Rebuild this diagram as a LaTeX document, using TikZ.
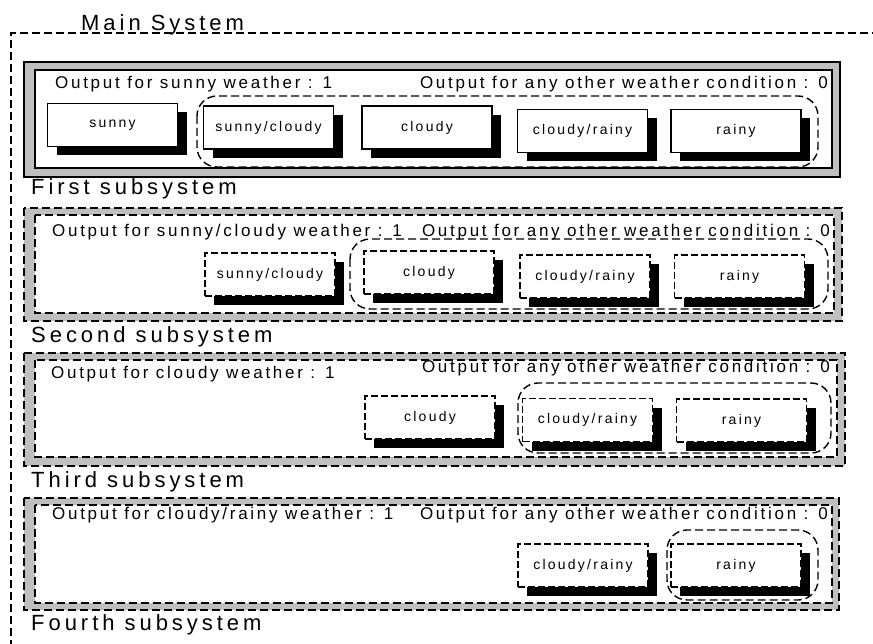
\documentclass[tikz,border=0pt]{standalone}
\usepackage{fontspec}
\setmainfont{Liberation Sans}[LetterSpace=16]
\usetikzlibrary{shadows}

\tikzset{
    dashes/.style = {dash pattern=on 8pt off 4pt},
    band/.style = {fill=black!25, draw=black, line width=1.2pt},
    pane/.style = {fill=white, draw=black, line width=1.2pt},
    wbox/.style = {draw, fill=white, line width=1.1pt, minimum width=130pt, minimum height=43pt,
        inner sep=0pt, font=\fontsize{14}{16}\selectfont,
        drop shadow={shadow xshift=9pt, shadow yshift=-9pt, fill=black, opacity=1}},
    dbox/.style = {wbox, dash pattern=on 7pt off 3pt},
    grp/.style = {draw, line width=1.4pt, dash pattern=on 8pt off 4pt, rounded corners=20pt},
    outtxt/.style = {inner sep=0pt, font=\fontsize{17}{19}\selectfont},
    subtxt/.style = {inner sep=0pt, font=\fontsize{22}{25}\selectfont\addfontfeatures{LetterSpace=18}}
}

\begin{document}
\begin{tikzpicture}[x=1pt, y=-1pt]
        \useasboundingbox (0,0) rectangle (873,644);

        % main system
        \draw[line width=1.2pt, dashes] (11,660) -- (11,33) -- (890,33);
        \node[subtxt, anchor=base west] (mainlbl) at (81,31) {Main System};

        % first subsystem
        \filldraw[band] (24,62) rectangle (840,177);
        \filldraw[pane] (35,70) rectangle (832,168);
        \node[outtxt, anchor=base west] (oneA) at (55,89) {Output for sunny weather : 1};
        \node[outtxt, anchor=base east] (zeroA) at (828,89) {Output for any other weather condition : 0};
        \draw[grp] (197,96) rectangle (818,167);
        \node[wbox] (sunnyA) at (112.5,125) {sunny};
        \node[wbox] (sunnycloudyA) at (268.5,127.5) {sunny/cloudy};
        \node[wbox] (cloudyA) at (427,127.5) {cloudy};
        \node[wbox] (cloudyrainyA) at (582.5,131) {cloudy/rainy};
        \node[wbox] (rainyA) at (736,131) {rainy};
        \node[subtxt, anchor=base west] (firstlbl) at (31,195) {First subsystem};

        % second subsystem
        \filldraw[band, dashes] (24,208) rectangle (842,321);
        \filldraw[pane, dashes] (35,215) rectangle (834,313);
        \node[outtxt, anchor=base west] (oneB) at (52,237) {Output for sunny/cloudy weather : 1};
        \node[outtxt, anchor=base east] (zeroB) at (830,237) {Output for any other weather condition : 0};
        \draw[grp] (350,239) rectangle (828,309);
        \node[dbox] (sunnycloudyB) at (270,274.5) {sunny/cloudy};
        \node[dbox] (cloudyB) at (429,272.5) {cloudy};
        \node[dbox] (cloudyrainyB) at (585,276.5) {cloudy/rainy};
        \node[dbox] (rainyB) at (739.5,276.5) {rainy};
        \node[subtxt, anchor=base west] (secondlbl) at (31,343) {Second subsystem};

        % third subsystem
        \filldraw[band, dashes] (24,353) rectangle (845,466);
        \filldraw[pane, dashes] (35,360) rectangle (837,457);
        \node[outtxt, anchor=base west] (oneC) at (51,378) {Output for cloudy weather : 1};
        \node[outtxt, anchor=base east] (zeroC) at (830,373) {Output for any other weather condition : 0};
        \draw[grp] (518,383) rectangle (831,453);
        \node[dbox] (cloudyC) at (430,417.5) {cloudy};
        \node[dbox] (cloudyrainyC) at (587.5,420) {cloudy/rainy};
        \node[dbox] (rainyC) at (741.5,420.5) {rainy};
        \node[subtxt, anchor=base west] (thirdlbl) at (31,487) {Third subsystem};

        % fourth subsystem
        \filldraw[band, dashes] (24,498) rectangle (839,610);
        \filldraw[pane, dashes] (35,505) rectangle (832,603);
        \node[outtxt, anchor=base west] (oneD) at (52,519) {Output for cloudy/rainy weather : 1};
        \node[outtxt, anchor=base east] (zeroD) at (828,519) {Output for any other weather condition : 0};
        \draw[grp] (667,530) rectangle (818,600);
        \node[dbox] (cloudyrainyD) at (583,565.5) {cloudy/rainy};
        \node[dbox] (rainyD) at (736,565.5) {rainy};
        \node[subtxt, anchor=base west] (fourthlbl) at (31,630) {Fourth subsystem};

    \end{tikzpicture}
\end{document}
